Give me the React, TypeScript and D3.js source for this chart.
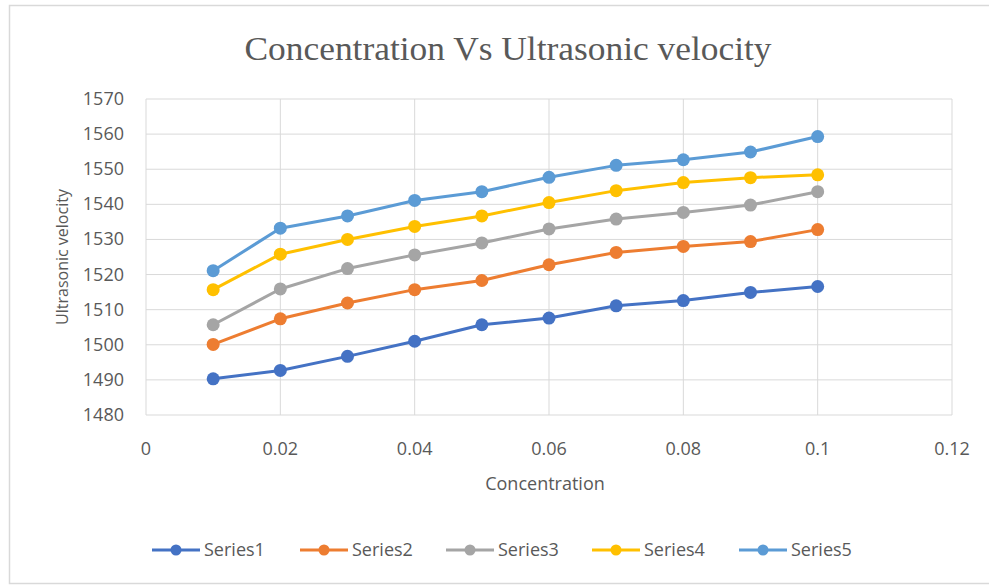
import React from "react";
import * as d3 from "d3";

// Concentration values (x) shared by every series
const concentrations = [0.01, 0.02, 0.03, 0.04, 0.05, 0.06, 0.07, 0.08, 0.09, 0.1];

// Ultrasonic velocity for each series
const series1 = [1490.3, 1492.7, 1496.7, 1501.0, 1505.7, 1507.6, 1511.1, 1512.6, 1514.9, 1516.6];
const series2 = [1500.1, 1507.4, 1511.9, 1515.7, 1518.3, 1522.8, 1526.3, 1528.0, 1529.4, 1532.8];
const series3 = [1505.7, 1515.9, 1521.7, 1525.6, 1529.0, 1533.0, 1535.8, 1537.7, 1539.8, 1543.6];
const series4 = [1515.7, 1525.8, 1530.0, 1533.7, 1536.7, 1540.5, 1543.9, 1546.2, 1547.6, 1548.4];
const series5 = [1521.1, 1533.2, 1536.7, 1541.1, 1543.6, 1547.7, 1551.1, 1552.7, 1554.9, 1559.3];

const seriesNames = ["Series1", "Series2", "Series3", "Series4", "Series5"];
const seriesColors = ["#4472C4", "#ED7D31", "#A5A5A5", "#FFC000", "#5B9BD5"];

const xTicks = [0, 0.02, 0.04, 0.06, 0.08, 0.1, 0.12];
const yTicks = [1480, 1490, 1500, 1510, 1520, 1530, 1540, 1550, 1560, 1570];

const W = 989;
const H = 585;
const plot = { left: 146, right: 952, top: 99, bottom: 415 };

const font = "'Open Sans', 'Noto Sans', sans-serif";
const textColor = "#595959";
const gridColor = "#d9d9d9";

export default function App() {
  const x = d3.scaleLinear().domain([0, 0.12]).range([plot.left, plot.right]);
  const y = d3.scaleLinear().domain([1480, 1570]).range([plot.bottom, plot.top]);

  const allSeries = [series1, series2, series3, series4, series5];
  const line = d3
    .line<number>()
    .x((_, i) => x(concentrations[i]))
    .y((v) => y(v));

  const legendX = [152, 300, 446, 592, 739];
  const legendY = 550;

  return (
    <div style={{ position: "absolute", left: 0, top: 0 }}>
      <svg width={W} height={H} style={{ display: "block", background: "#fff" }}>
        {/* chart frame */}
        <rect x={9.5} y={5.5} width={W + 10} height={578} fill="#fff" stroke={gridColor} strokeWidth={1.5} />

        {/* title */}
        <text
          x={508}
          y={60}
          textAnchor="middle"
          fontFamily="'Liberation Serif', 'DejaVu Serif', serif"
          fontSize={34}
          fill={textColor}
          textLength={527}
          lengthAdjust="spacingAndGlyphs"
        >
          Concentration Vs Ultrasonic velocity
        </text>

        {/* gridlines */}
        {yTicks.map((t) => (
          <line key={"gy" + t} x1={plot.left} x2={plot.right} y1={y(t)} y2={y(t)} stroke={gridColor} strokeWidth={1} />
        ))}
        {xTicks.map((t) => (
          <line key={"gx" + t} x1={x(t)} x2={x(t)} y1={plot.top} y2={plot.bottom} stroke={gridColor} strokeWidth={1} />
        ))}

        {/* y tick labels */}
        {yTicks.map((t) => (
          <text key={"ty" + t} x={124} y={y(t) + 6} textAnchor="end" fontFamily={font} fontSize={18} fill={textColor}>
            {t}
          </text>
        ))}

        {/* x tick labels */}
        {xTicks.map((t) => (
          <text key={"tx" + t} x={x(t)} y={455} textAnchor="middle" fontFamily={font} fontSize={18} fill={textColor}>
            {String(t)}
          </text>
        ))}

        {/* axis titles */}
        <text x={545} y={490} textAnchor="middle" fontFamily={font} fontSize={18} fill={textColor}>
          Concentration
        </text>
        <text
          transform={`translate(68, ${(plot.top + plot.bottom) / 2}) rotate(-90)`}
          textAnchor="middle"
          fontFamily={font}
          fontSize={16}
          fill={textColor}
        >
          Ultrasonic velocity
        </text>

        {/* series lines and markers */}
        {allSeries.map((vals, si) => (
          <g key={"s" + si}>
            <path d={line(vals) || ""} fill="none" stroke={seriesColors[si]} strokeWidth={3} strokeLinejoin="round" />
            {vals.map((v, i) => (
              <circle key={i} cx={x(concentrations[i])} cy={y(v)} r={6.5} fill={seriesColors[si]} />
            ))}
          </g>
        ))}

        {/* legend */}
        {seriesNames.map((name, i) => (
          <g key={"l" + name} transform={`translate(${legendX[i]}, ${legendY})`}>
            <line x1={0} x2={48} y1={0} y2={0} stroke={seriesColors[i]} strokeWidth={3} />
            <circle cx={24} cy={0} r={5.5} fill={seriesColors[i]} />
            <text x={52} y={6} fontFamily={font} fontSize={18} fill={textColor}>
              {name}
            </text>
          </g>
        ))}
      </svg>
    </div>
  );
}
